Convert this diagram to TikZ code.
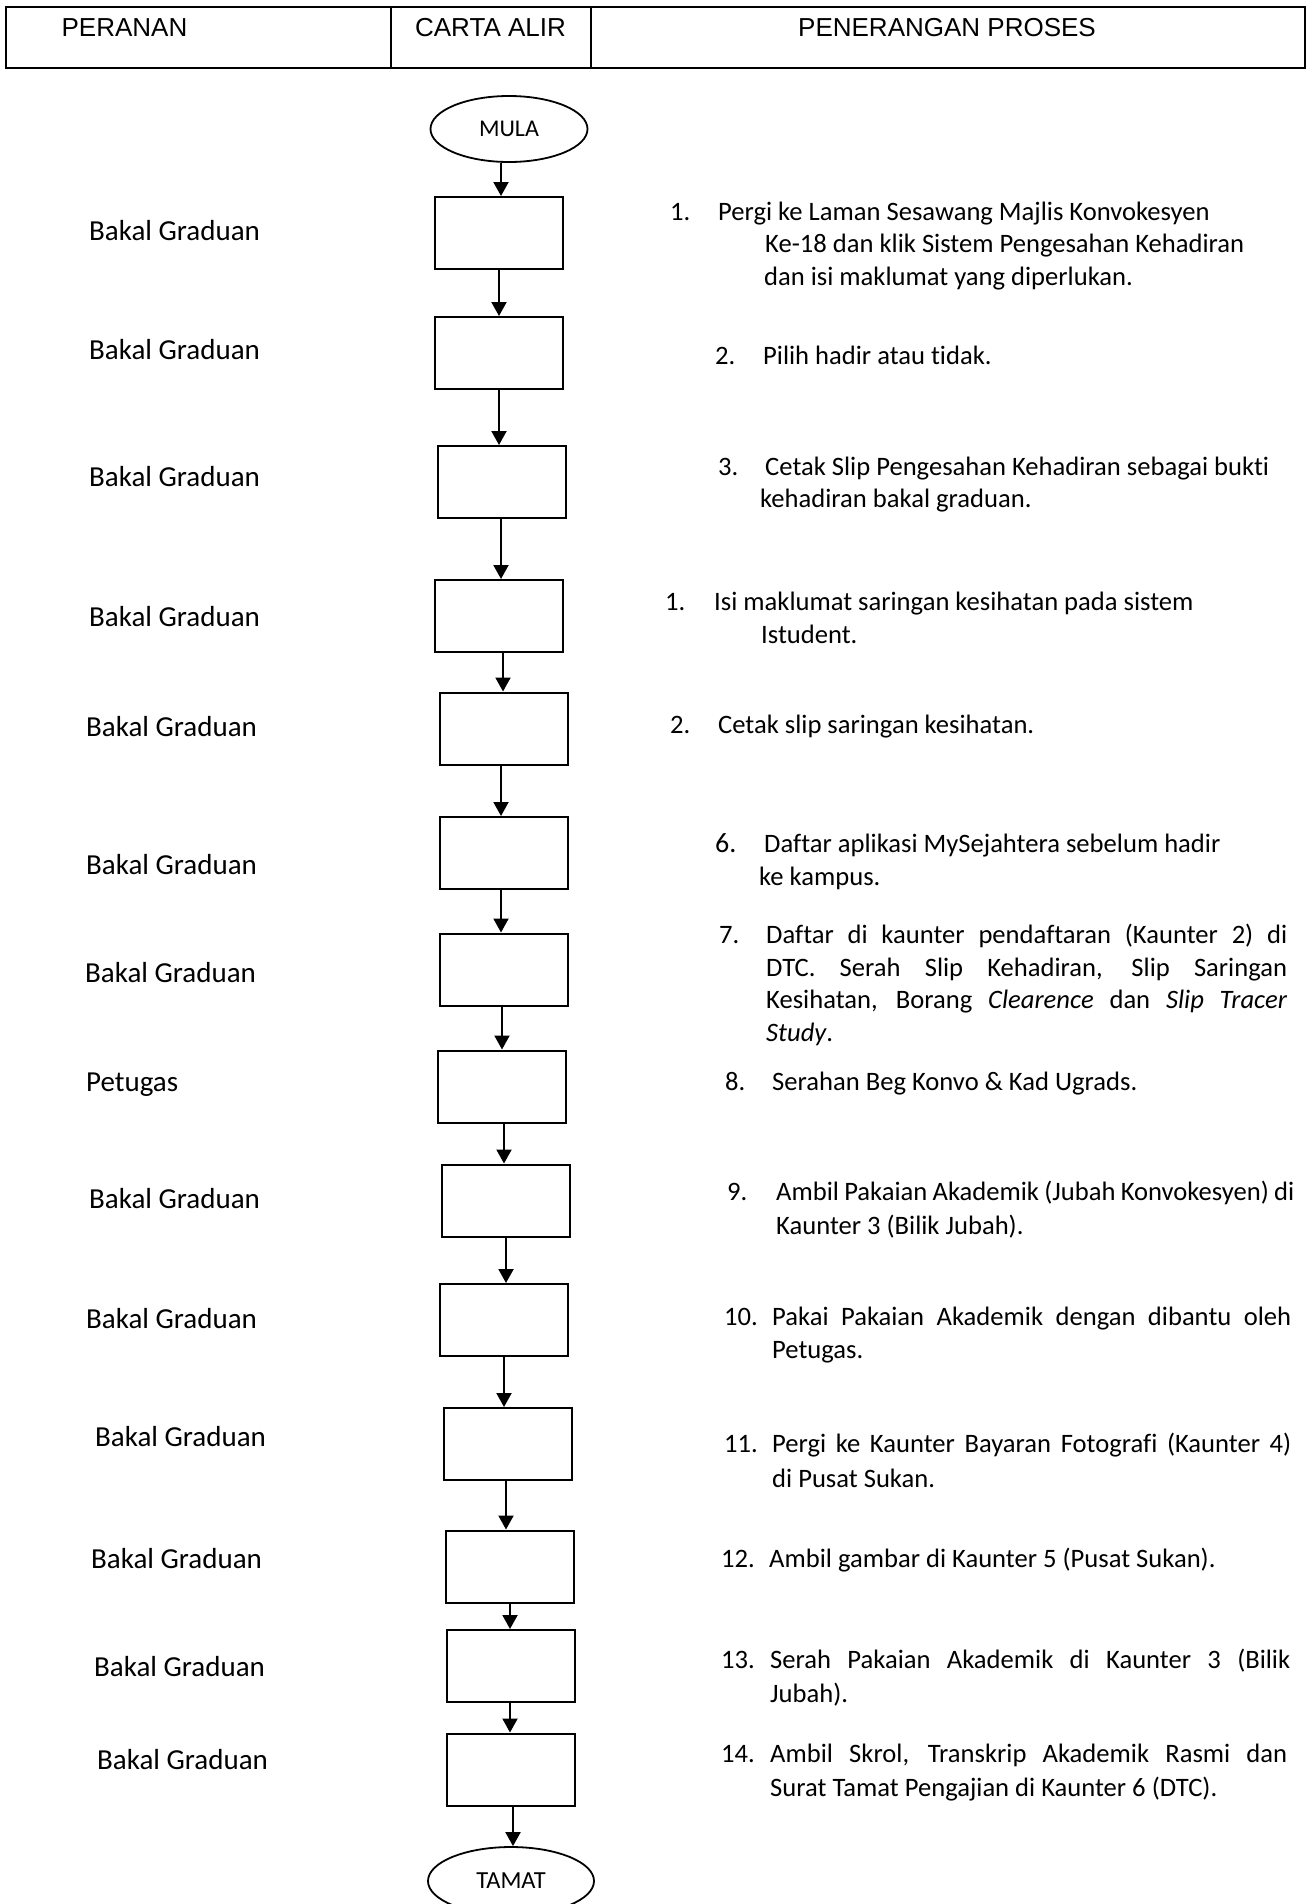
\documentclass[tikz,border=0pt]{standalone}
\usepackage{fontspec}
\setmainfont{Carlito}[Ligatures=CommonOff]
\newfontfamily\hdrfont{Liberation Sans}
\usetikzlibrary{arrows.meta,shapes.geometric}
\begin{document}
\begin{tikzpicture}[x=1pt,y=-1pt,
  stepbox/.style={draw,line width=2pt,minimum width=128pt,minimum height=72pt,inner sep=0pt},
  term/.style={draw,ellipse,line width=1.8pt,inner sep=0pt,font=\fontsize{24}{28}\selectfont},
  arr/.style={line width=2pt,-{Triangle[width=15pt,length=14pt]}},
  hdr/.style={inner sep=0pt,anchor=base,font=\hdrfont\fontsize{26}{30}\selectfont},
  lab/.style={inner sep=0pt,anchor=base west,font=\fontsize{29}{35}\selectfont},
  desc/.style={inner sep=0pt,anchor=base west,font=\fontsize{26.6}{32}\selectfont}]
\clip (0,0) rectangle (1309,1904);
\fill[white] (0,0) rectangle (1309,1904);
% header
\draw[line width=2pt] (6,7) rectangle (1305,68);
\draw[line width=1.2pt] (391,7) -- (391,68);
\draw[line width=1.2pt] (591,7) -- (591,68);
\node[hdr] (h1) at (124.5,36) {PERANAN};
\node[hdr] (h2) at (490.5,36) {CARTA ALIR};
\node[hdr] (h3) at (947,36) {PENERANGAN PROSES};
% flowchart
\node[term,minimum width=157pt,minimum height=66pt] (start) at (509,129) {MULA};
\node[stepbox] (b1) at (499,233) {};
\node[stepbox] (b2) at (499,353) {};
\node[stepbox] (b3) at (501.5,482) {};
\node[stepbox] (b4) at (499,616) {};
\node[stepbox] (b5) at (503.5,728.5) {};
\node[stepbox] (b6) at (503.5,853) {};
\node[stepbox] (b7) at (504,969.5) {};
\node[stepbox] (b8) at (502,1086.5) {};
\node[stepbox] (b9) at (506,1200.5) {};
\node[stepbox] (b10) at (504,1320) {};
\node[stepbox] (b11) at (508,1444) {};
\node[stepbox] (b12) at (510,1566.5) {};
\node[stepbox] (b13) at (511,1666) {};
\node[stepbox] (b14) at (511,1769.5) {};
\node[term,minimum width=166pt,minimum height=68pt,font=\fontsize{24.5}{28}\selectfont] (end) at (511,1881) {TAMAT};
\draw[arr] (start.south -| 501,0) -- (b1.north -| 501,0);
\draw[arr] (b1.south -| 499,0) -- (b2.north -| 499,0);
\draw[arr] (b2.south -| 499,0) -- (b3.north -| 499,0);
\draw[arr] (b3.south -| 501,0) -- (b4.north -| 501,0);
\draw[arr] (b4.south -| 503,0) -- (b5.north -| 503,0);
\draw[arr] (b5.south -| 501,0) -- (b6.north -| 501,0);
\draw[arr] (b6.south -| 501,0) -- (b7.north -| 501,0);
\draw[arr] (b7.south -| 502,0) -- (b8.north -| 502,0);
\draw[arr] (b8.south -| 504,0) -- (b9.north -| 504,0);
\draw[arr] (b9.south -| 506,0) -- (b10.north -| 506,0);
\draw[arr] (b10.south -| 504,0) -- (b11.north -| 504,0);
\draw[arr] (b11.south -| 506,0) -- (b12.north -| 506,0);
\draw[arr] (b12.south -| 510,0) -- (b13.north -| 510,0);
\draw[arr] (b13.south -| 510,0) -- (b14.north -| 510,0);
\draw[arr] (b14.south -| 513,0) -- (end.north -| 513,0);
% roles
\node[lab] (r1) at (89,240) {Bakal Graduan};
\node[lab] (r2) at (89,359) {Bakal Graduan};
\node[lab] (r3) at (89,486) {Bakal Graduan};
\node[lab] (r4) at (89,626) {Bakal Graduan};
\node[lab] (r5) at (86,736) {Bakal Graduan};
\node[lab] (r6) at (86,874) {Bakal Graduan};
\node[lab] (r7) at (85,982) {Bakal Graduan};
\node[lab] (r8) at (86,1091) {Petugas};
\node[lab] (r9) at (89,1208) {Bakal Graduan};
\node[lab] (r10) at (86,1328) {Bakal Graduan};
\node[lab] (r11) at (95,1446) {Bakal Graduan};
\node[lab] (r12) at (91,1568) {Bakal Graduan};
\node[lab] (r13) at (94,1676) {Bakal Graduan};
\node[lab] (r14) at (97,1769) {Bakal Graduan};
% descriptions
\node[desc] (n1) at (670,220) {1.};
\node[desc] (d1a) at (718,220) {Pergi ke Laman Sesawang Majlis Konvokesyen};
\node[desc] (d1b) at (765,252) {Ke-18 dan klik Sistem Pengesahan Kehadiran};
\node[desc] (d1c) at (764,285) {dan isi maklumat yang diperlukan.};
\node[desc] (n2) at (715,364) {2.};
\node[desc] (d2a) at (763,364) {Pilih hadir atau tidak.};
\node[desc] (n3) at (718,475) {3.};
\node[desc] (d3a) at (765,475) {Cetak Slip Pengesahan Kehadiran sebagai bukti};
\node[desc] (d3b) at (760,507) {kehadiran bakal graduan.};
\node[desc] (n4) at (665,610) {1.};
\node[desc] (d4a) at (714,610) {Isi maklumat saringan kesihatan pada sistem};
\node[desc] (d4b) at (761,643) {Istudent.};
\node[desc] (n5) at (670,733) {2.};
\node[desc] (d5a) at (718,733) {Cetak slip saringan kesihatan.};
\node[desc,font=\fontsize{28}{33}\selectfont] (n6) at (715,852) {6.};
\node[desc] (d6a) at (764,852) {Daftar aplikasi MySejahtera sebelum hadir};
\node[desc] (d6b) at (759,885) {ke kampus.};
\node[desc] (n7) at (719,943) {7.};
\node[desc] (d7a) at (766,943) {\makebox[521pt][s]{Daftar di kaunter pendaftaran (Kaunter 2) di}};
\node[desc] (d7b) at (766,976) {\makebox[521pt][s]{DTC. Serah Slip Kehadiran, Slip Saringan}};
\node[desc] (d7c) at (766,1008) {\makebox[521pt][s]{Kesihatan, Borang \textit{Clearence} dan \textit{Slip Tracer}}};
\node[desc] (d7d) at (766,1041) {\textit{Study}.};
\node[desc] (n8) at (725,1090) {8.};
\node[desc] (d8a) at (772,1090) {Serahan Beg Konvo \& Kad Ugrads.};
\node[desc] (n9) at (727,1200) {9.};
\node[desc] (d9a) at (776,1200) {\makebox[518pt][s]{Ambil Pakaian Akademik (Jubah Konvokesyen) di}};
\node[desc] (d9b) at (776,1234) {Kaunter 3 (Bilik Jubah).};
\node[desc] (n10) at (724,1325) {10.};
\node[desc] (d10a) at (772,1325) {\makebox[519pt][s]{Pakai Pakaian Akademik dengan dibantu oleh}};
\node[desc] (d10b) at (772,1358) {Petugas.};
\node[desc] (n11) at (724,1452) {11.};
\node[desc] (d11a) at (772,1452) {\makebox[519pt][s]{Pergi ke Kaunter Bayaran Fotografi (Kaunter 4)}};
\node[desc] (d11b) at (772,1487) {di Pusat Sukan.};
\node[desc] (n12) at (721,1567) {12.};
\node[desc] (d12a) at (769,1567) {Ambil gambar di Kaunter 5 (Pusat Sukan).};
\node[desc] (n13) at (721,1668) {13.};
\node[desc] (d13a) at (770,1668) {\makebox[520pt][s]{Serah Pakaian Akademik di Kaunter 3 (Bilik}};
\node[desc] (d13b) at (770,1702) {Jubah).};
\node[desc] (n14) at (721,1762) {14.};
\node[desc] (d14a) at (770,1762) {\makebox[517pt][s]{Ambil Skrol, Transkrip Akademik Rasmi dan}};
\node[desc] (d14b) at (770,1796) {Surat Tamat Pengajian di Kaunter 6 (DTC).};
\end{tikzpicture}
\end{document}
